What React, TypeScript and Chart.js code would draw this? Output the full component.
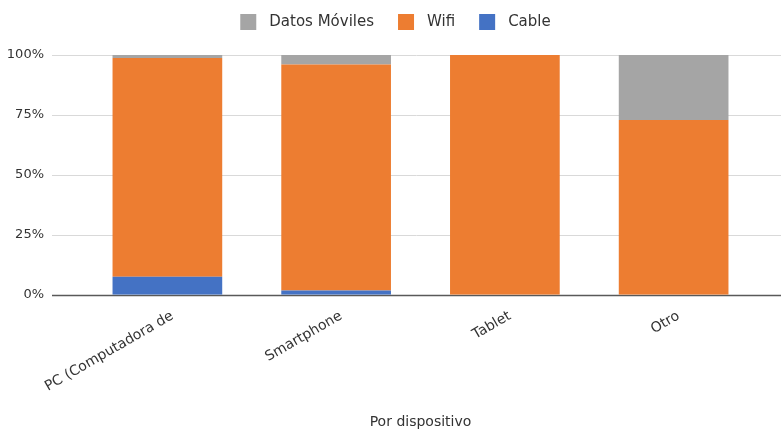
import React, { useEffect, useRef } from "react";
import { Chart, registerables } from "chart.js";

Chart.register(...registerables);

// Share of connection type per device (percent of each device's total)
const categories = ["PC (Computadora de", "Smartphone", "Tablet", "Otro"];
const cableValues = [7.5, 1.8, 0, 0];
const wifiValues = [91.3, 94.2, 100, 72.9];
const movilValues = [1.2, 4.0, 0, 27.1];
const yTicks = [0, 25, 50, 75, 100];

const FONT = "'DejaVu Sans', sans-serif";
const TEXT = "#333333";

// Horizontal gridlines and the baseline run across the full plot width,
// beyond the category band that holds the bars.
const fullGrid = {
  id: "fullGrid",
  beforeDatasetsDraw(chart: any) {
    const { ctx, scales } = chart;
    const y = scales.y;
    const left = 52;
    const right = chart.width;
    ctx.save();
    for (const v of yTicks) {
      const py = Math.round(y.getPixelForValue(v)) + 0.5;
      ctx.beginPath();
      ctx.moveTo(left, py);
      ctx.lineTo(right, py);
      ctx.lineWidth = v === 0 ? 1.5 : 1;
      ctx.strokeStyle = v === 0 ? "#595959" : "#d9d9d9";
      ctx.stroke();
    }
    ctx.restore();
  },
};

// Legend row across the top: square swatch, gap, label; series listed top-of-stack first.
const topLegend = {
  id: "topLegend",
  afterDraw(chart: any) {
    const { ctx } = chart;
    const sets = [...chart.data.datasets].reverse();
    const box = 16;
    const gap = 13;
    const spacing = 24;
    const centerX = 395.5;
    const boxTop = 14;
    ctx.save();
    ctx.font = `15px ${FONT}`;
    const widths = sets.map((d: any) => ctx.measureText(d.label).width);
    const total =
      widths.reduce((a: number, w: number) => a + box + gap + w, 0) + spacing * (sets.length - 1);
    let x = centerX - total / 2;
    sets.forEach((d: any, i: number) => {
      ctx.fillStyle = d.backgroundColor;
      ctx.fillRect(x, boxTop, box, box);
      ctx.fillStyle = TEXT;
      ctx.textAlign = "left";
      ctx.textBaseline = "middle";
      ctx.fillText(d.label, x + box + gap, boxTop + box / 2 + 0.5);
      x += box + gap + widths[i] + spacing;
    });
    ctx.restore();
  },
};

export default function App() {
  const ref = useRef<HTMLCanvasElement | null>(null);

  useEffect(() => {
    if (!ref.current) return;
    const chart = new Chart(ref.current, {
      type: "bar",
      data: {
        labels: categories,
        datasets: [
          { label: "Cable", data: cableValues, backgroundColor: "#4472c4" },
          { label: "Wifi", data: wifiValues, backgroundColor: "#ed7d31" },
          { label: "Datos Móviles", data: movilValues, backgroundColor: "#a5a5a5" },
        ],
      },
      options: {
        responsive: false,
        animation: false,
        layout: { padding: { top: 55, right: 23, bottom: -2, left: 0 } },
        datasets: {
          bar: { barPercentage: 0.65, categoryPercentage: 1, borderWidth: 0 },
        },
        plugins: {
          legend: { display: false },
          tooltip: { enabled: false },
        },
        scales: {
          x: {
            stacked: true,
            grid: { display: false, drawTicks: false },
            border: { display: false },
            ticks: {
              color: TEXT,
              font: { family: FONT, size: 14 },
              minRotation: 30,
              maxRotation: 30,
              padding: 13,
              labelOffset: 5,
              autoSkip: false,
            },
            title: {
              display: true,
              text: "Por dispositivo",
              color: TEXT,
              font: { family: FONT, size: 14 },
              padding: { top: 6, bottom: 0 },
            },
          },
          y: {
            stacked: true,
            min: 0,
            max: 100,
            grid: { display: false, drawTicks: false },
            border: { display: false },
            afterFit: (s: any) => {
              s.width = 83;
            },
            afterBuildTicks: (s: any) => {
              s.ticks = yTicks.map((v) => ({ value: v }));
            },
            ticks: {
              color: TEXT,
              font: { family: FONT, size: 13 },
              padding: 39,
              callback: (v: any) => `${v}%`,
            },
          },
        },
      },
      plugins: [fullGrid, topLegend],
    });
    return () => chart.destroy();
  }, []);

  return (
    <div style={{ position: "fixed", left: 0, top: 0, width: 781, height: 429, background: "#fff" }}>
      <canvas ref={ref} width={781} height={429} style={{ display: "block" }} />
    </div>
  );
}
